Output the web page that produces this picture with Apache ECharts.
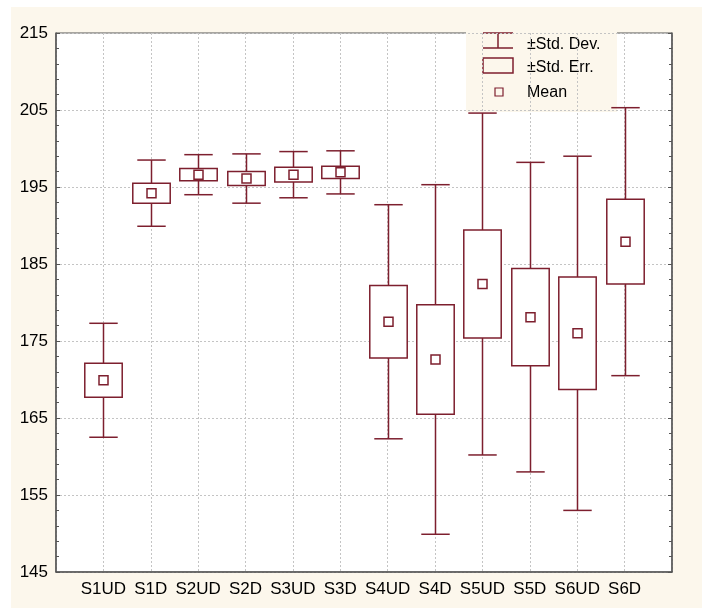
<!DOCTYPE html>
<html>
<head>
<meta charset="utf-8">
<script src="https://cdn.jsdelivr.net/npm/echarts@6/dist/echarts.min.js"></script>
<style>
  html, body { margin: 0; padding: 0; background: #fff; }
  #wrap { position: relative; width: 702px; height: 608px; overflow: hidden; }
  #paper { position: absolute; left: 11px; top: 7px; width: 691px; height: 601px; background: #fcf7ec; }
  #chart { position: absolute; left: 0; top: 0; width: 702px; height: 608px; }
</style>
</head>
<body>
<div id="wrap">
  <div id="paper"></div>
  <div id="chart"></div>
</div>
<script>
// groups on the x axis
var categories = ['S1UD', 'S1D', 'S2UD', 'S2D', 'S3UD', 'S3D', 'S4UD', 'S4D', 'S5UD', 'S5D', 'S6UD', 'S6D'];
// mean, standard error and standard deviation per group
var means  = [169.9, 194.2, 196.6, 196.1, 196.6, 196.9, 177.5, 172.6, 182.4, 178.1, 176.0, 187.9];
var stdErr = [2.2, 1.3, 0.8, 0.9, 0.95, 0.8, 4.7, 7.1, 7.0, 6.3, 7.3, 5.5];
var stdDev = [7.4, 4.3, 2.6, 3.2, 3.0, 2.8, 15.2, 22.7, 22.2, 20.1, 23.0, 17.4];
var yMin = 145, yMax = 215, yStep = 10;

var RED = '#7d1f2e';
var FONT = '"Liberation Sans", Arial, sans-serif';

var data = categories.map(function (c, i) {
  return [i + 1, means[i], stdErr[i], stdDev[i]];
});

function renderBox(params, api) {
  var x = api.value(0), m = api.value(1), se = api.value(2), sd = api.value(3);
  var unit = api.size([1, 0])[0];
  var boxW = unit * 0.79, capW = unit * 0.6;
  var hi = api.coord([x, m + sd]), lo = api.coord([x, m - sd]);
  var bt = api.coord([x, m + se]), bb = api.coord([x, m - se]);
  var c = api.coord([x, m]);
  var cx = Math.round(c[0]) + 0.5;
  var lineStyle = { stroke: RED, lineWidth: 1.5 };
  return {
    type: 'group',
    children: [
      { type: 'line', shape: { x1: cx, y1: hi[1], x2: cx, y2: lo[1] }, style: lineStyle },
      { type: 'line', shape: { x1: cx - capW / 2, y1: hi[1], x2: cx + capW / 2, y2: hi[1] }, style: lineStyle },
      { type: 'line', shape: { x1: cx - capW / 2, y1: lo[1], x2: cx + capW / 2, y2: lo[1] }, style: lineStyle },
      { type: 'rect', shape: { x: cx - boxW / 2, y: bt[1], width: boxW, height: bb[1] - bt[1] },
        style: { fill: '#fff', stroke: RED, lineWidth: 1.5 } },
      { type: 'rect', shape: { x: cx - 4.5, y: c[1] - 4.5, width: 9, height: 9 },
        style: { fill: 'none', stroke: RED, lineWidth: 1.5 } }
    ]
  };
}

var chart = echarts.init(document.getElementById('chart'));
var option = {
  animation: false,
  backgroundColor: 'transparent',
  textStyle: { fontFamily: FONT },
  grid: {
    left: 56, right: 30, top: 33, bottom: 36,
    show: true, backgroundColor: '#fff', borderColor: '#555', borderWidth: 1
  },
  xAxis: {
    type: 'value',
    min: 0, max: categories.length + 1, interval: 1,
    axisLine: { show: true, onZero: false, lineStyle: { color: '#555', width: 1.5 } },
    axisTick: { show: false },
    axisLabel: {
      color: '#000', fontSize: 17, fontFamily: FONT, margin: 9,
      formatter: function (v) { return categories[v - 1] || ''; }
    },
    splitLine: { show: true, lineStyle: { color: '#c4c4c4', type: [2, 2] } }
  },
  yAxis: [
    {
      type: 'value', min: yMin, max: yMax, interval: yStep,
      axisLine: { show: true, lineStyle: { color: '#555', width: 1.5 } },
      axisTick: { show: true, inside: true, length: 4, lineStyle: { color: '#555' } },
      minorTick: { show: true, splitNumber: 5, length: 3, lineStyle: { color: '#555' } },
      axisLabel: { color: '#000', fontSize: 17, fontFamily: FONT, margin: 8 },
      splitLine: { show: true, lineStyle: { color: '#c4c4c4', type: [2, 2] } }
    },
    {
      type: 'value', min: yMin, max: yMax, interval: yStep, position: 'right',
      axisLine: { show: true, lineStyle: { color: '#555', width: 1.5 } },
      axisTick: { show: true, inside: true, length: 4, lineStyle: { color: '#555' } },
      minorTick: { show: true, splitNumber: 5, length: 3, lineStyle: { color: '#555' } },
      axisLabel: { show: false },
      splitLine: { show: false }
    }
  ],
  series: [{
    type: 'custom',
    renderItem: renderBox,
    encode: { x: 0, y: 1 },
    data: data,
    z: 5
  }],
  graphic: [{
    type: 'group', left: 466, top: 25, z: 100,
    children: [
      { type: 'rect', shape: { x: 0, y: 0, width: 151, height: 87 }, style: { fill: '#fcf7ec' } },
      { type: 'line', shape: { x1: 17, y1: 8, x2: 47, y2: 8 }, style: { stroke: RED, lineWidth: 1.5 } },
      { type: 'line', shape: { x1: 32, y1: 8, x2: 32, y2: 23 }, style: { stroke: RED, lineWidth: 1.5 } },
      { type: 'line', shape: { x1: 17, y1: 23, x2: 47, y2: 23 }, style: { stroke: RED, lineWidth: 1.5 } },
      { type: 'rect', shape: { x: 17, y: 33, width: 30, height: 15 }, style: { fill: 'none', stroke: RED, lineWidth: 1.5 } },
      { type: 'rect', shape: { x: 29, y: 63, width: 8, height: 8 }, style: { fill: 'none', stroke: RED, lineWidth: 1.2 } },
      { type: 'text', x: 61, y: 20, style: { text: '±Std. Dev.', fill: '#000', font: '16px ' + FONT, textVerticalAlign: 'middle' } },
      { type: 'text', x: 61, y: 43, style: { text: '±Std. Err.', fill: '#000', font: '16px ' + FONT, textVerticalAlign: 'middle' } },
      { type: 'text', x: 61, y: 68, style: { text: 'Mean', fill: '#000', font: '16px ' + FONT, textVerticalAlign: 'middle' } }
    ]
  }]
};
chart.setOption(option);
</script>
</body>
</html>
